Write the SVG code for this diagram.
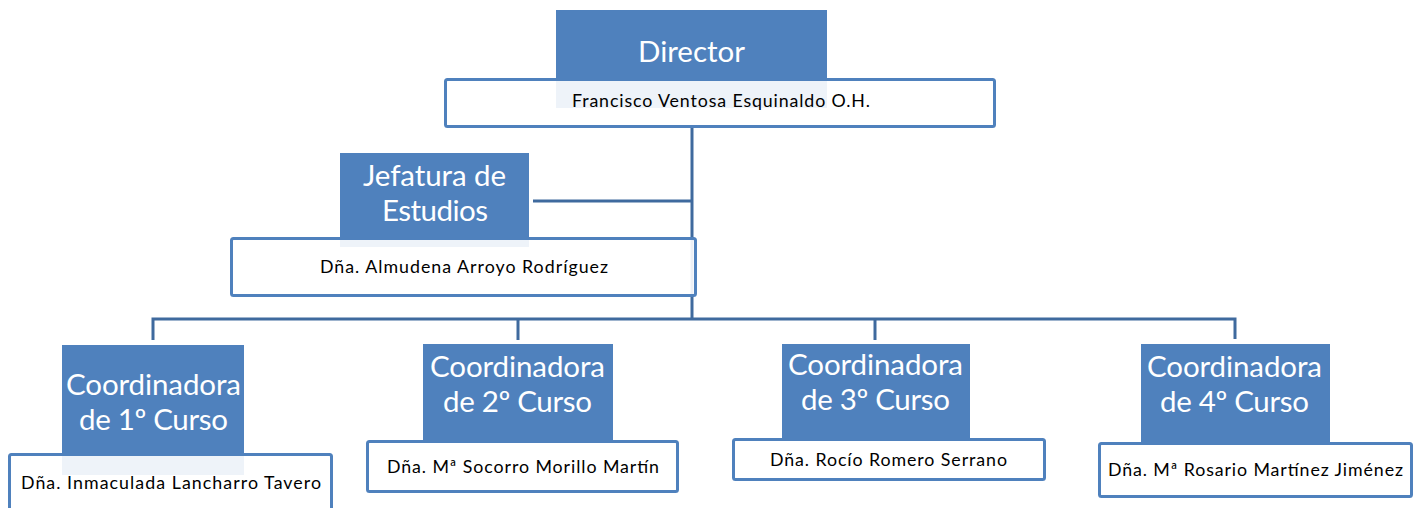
<svg xmlns="http://www.w3.org/2000/svg" width="1421" height="508" viewBox="0 0 1421 508">
<style>
.role{fill:#4F81BD}
.name{fill:#FFFFFF;fill-opacity:0.9;stroke:#4F81BD;stroke-width:3}
.big{font-family:Lato,"Open Sans","Liberation Sans",sans-serif;font-size:29.5px;fill:#FFFFFF;text-anchor:middle}
.small{font-family:Lato,"Open Sans","Liberation Sans",sans-serif;font-size:17.8px;fill:#000000;text-anchor:middle}
.conn{fill:none;stroke:#3F6A9E;stroke-width:3}
</style>
<rect width="1421" height="508" fill="#FFFFFF"/>
<g id="connectors">
<path class="conn" d="M692 128 V320"/>
<path class="conn" d="M533 201 H692"/>
<path class="conn" d="M153 340 V319 H1235 V339"/>
<path class="conn" d="M518 319 V340"/>
<path class="conn" d="M875 319 V340"/>
</g>
<g id="director">
<rect class="role" x="556" y="10" width="271" height="98"/>
<rect class="name" x="445.5" y="79.5" width="549" height="47" rx="2"/>
<text class="big" x="691.5" y="62" textLength="107">Director</text>
<text class="small" x="721" y="107" textLength="298">Francisco Ventosa Esquinaldo O.H.</text>
</g>
<g id="jefatura">
<rect class="role" x="340" y="153" width="189" height="94"/>
<rect class="name" x="231.5" y="238.5" width="464" height="57" rx="2"/>
<text class="big" x="434.5" y="186" textLength="143">Jefatura de</text>
<text class="big" x="435" y="221" textLength="106">Estudios</text>
<text class="small" x="464" y="273" textLength="288">Dña. Almudena Arroyo Rodríguez</text>
</g>
<g id="coord1">
<rect class="role" x="62" y="345" width="182" height="130"/>
<rect class="name" x="9.5" y="454.5" width="322" height="62" rx="2"/>
<text class="big" x="153.5" y="395" textLength="175">Coordinadora</text>
<text class="big" x="153.5" y="430" textLength="149">de 1º Curso</text>
<text class="small" x="171" y="489" textLength="300">Dña. Inmaculada Lancharro Tavero</text>
</g>
<g id="coord2">
<rect class="role" x="423" y="344" width="190" height="97"/>
<rect class="name" x="367.5" y="441.5" width="310" height="50" rx="2"/>
<text class="big" x="517.5" y="377" textLength="175">Coordinadora</text>
<text class="big" x="517.5" y="412" textLength="149">de 2º Curso</text>
<text class="small" x="523" y="473" textLength="272">Dña. Mª Socorro Morillo Martín</text>
</g>
<g id="coord3">
<rect class="role" x="782" y="344" width="188" height="95"/>
<rect class="name" x="733.5" y="439.5" width="311" height="40" rx="2"/>
<text class="big" x="875.5" y="375" textLength="175">Coordinadora</text>
<text class="big" x="875.5" y="410" textLength="149">de 3º Curso</text>
<text class="small" x="888.5" y="466" textLength="237">Dña. Rocío Romero Serrano</text>
</g>
<g id="coord4">
<rect class="role" x="1141" y="344" width="189" height="99"/>
<rect class="name" x="1099.5" y="443.5" width="312" height="53" rx="2"/>
<text class="big" x="1234.5" y="377" textLength="175">Coordinadora</text>
<text class="big" x="1234.5" y="412" textLength="149">de 4º Curso</text>
<text class="small" x="1255.5" y="476" textLength="295">Dña. Mª Rosario Martínez Jiménez</text>
</g>
</svg>
